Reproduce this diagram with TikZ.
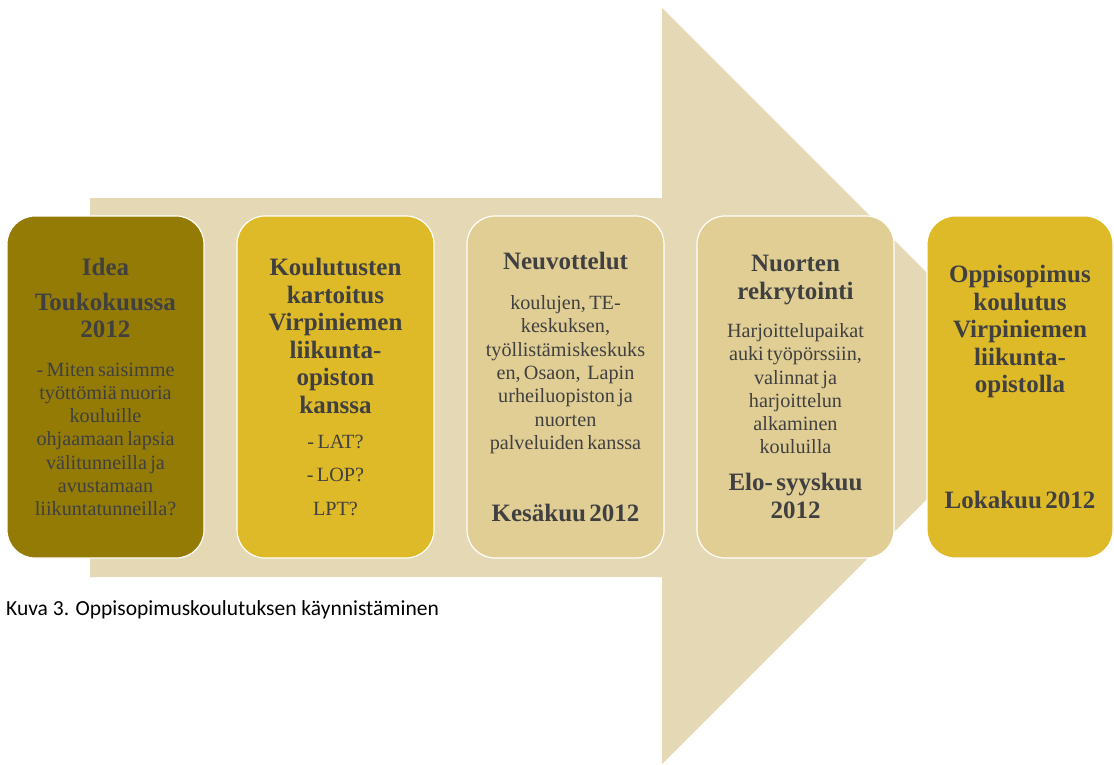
\documentclass[tikz,border=0pt]{standalone}
\usepackage{fontspec}
\setmainfont{Liberation Serif}
\newfontfamily\capfont{Carlito}
\usetikzlibrary{positioning}
\definecolor{arrowtan}{HTML}{E5D8B5}
\definecolor{boxolive}{HTML}{937B06}
\definecolor{boxgold}{HTML}{DFBA28}
\definecolor{boxtan}{HTML}{E1CE95}
\definecolor{txtgray}{HTML}{404040}
\newcommand{\ttl}{\fontsize{25}{27.5}\selectfont\bfseries}
\newcommand{\bdy}{\fontsize{20.2}{23.3}\selectfont\mdseries}
\begin{document}
\begin{tikzpicture}[x=1pt,y=-1pt,
  stage/.style={rectangle, rounded corners=28pt, draw=white, line width=1.2pt,
    minimum width=197pt, minimum height=342pt, text width=190pt, align=center,
    inner sep=0pt, text=txtgray}]
\useasboundingbox (0,0) rectangle (1114,764);
\fill[arrowtan] (90,198) -- (662,198) -- (662,8) -- (1040,386) -- (662,764) -- (662,577) -- (90,577) -- cycle;
\node[stage, fill=boxolive] (st1) at (105.5,387) {\ttl Idea\\[7.5pt] Toukokuussa\\ 2012\par\vspace{15pt}\bdy - Miten saisimme\\ työttömiä nuoria\\ kouluille\\ ohjaamaan lapsia\\ välitunneilla ja\\ avustamaan\\ liikuntatunneilla?\par};
\node[stage, fill=boxgold, right=31.8pt of st1] (st2) {\ttl Koulutusten\\ kartoitus\\ Virpiniemen\\ liikunta-\\ opiston\\ kanssa\par\vspace{12pt}\bdy - LAT?\\[10pt] - LOP?\\[10pt] LPT?\par};
\node[stage, fill=boxtan, right=31.8pt of st2] (st3) {\ttl Neuvottelut\par\vspace{17pt}\bdy koulujen, TE-\\ keskuksen,\\ työllistämiskeskuks\\ en, Osaon,\ \ Lapin\\ urheiluopiston ja\\ nuorten\\ palveluiden kanssa\par\vspace{45pt}\ttl Kesäkuu 2012\par};
\node[stage, fill=boxtan, right=31.8pt of st3] (st4) {\ttl Nuorten\\ rekrytointi\par\vspace{15pt}\bdy Harjoittelupaikat\\ auki työpörssiin,\\ valinnat ja\\ harjoittelun\\ alkaminen\\ kouluilla\par\vspace{9.5pt}\ttl Elo- syyskuu\\ 2012\par};
\node[stage, fill=boxgold, minimum width=186pt, text width=182pt, right=31.8pt of st4] (st5) {\ttl Oppisopimus\\ koulutus\\ Virpiniemen\\ liikunta-\\ opistolla\par\vspace{88pt}Lokakuu 2012\par};
\node[anchor=base west, inner sep=0pt, font=\capfont\fontsize{21.5}{25}\selectfont] (cap) at (6,615) {Kuva 3. Oppisopimuskoulutuksen käynnistäminen};
\end{tikzpicture}
\end{document}
